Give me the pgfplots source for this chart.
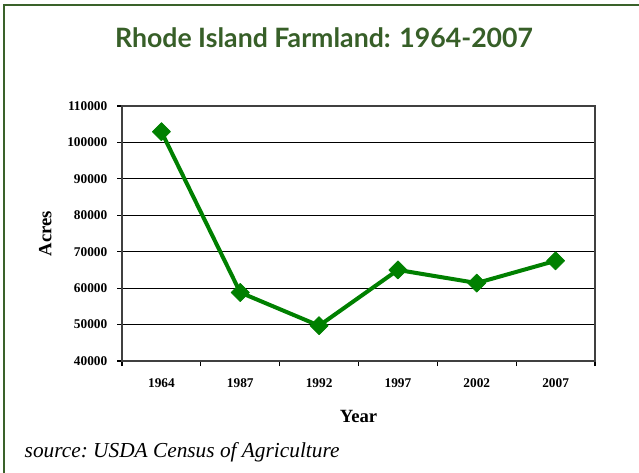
\documentclass[border=0pt]{standalone}
\usepackage{fontspec}
\setmainfont{Liberation Serif}
\newfontfamily\titlefont{Lato}
\usepackage{pgfplots}
\pgfplotsset{compat=1.18}
\definecolor{frame}{RGB}{58,98,42}
\definecolor{titlegreen}{RGB}{55,95,40}
\definecolor{linegreen}{RGB}{0,128,0}
\begin{document}
\begin{tikzpicture}[x=0.75pt,y=0.75pt]
\useasboundingbox (0,0) rectangle (639,472);
% frame (left and top edges only, picture is cropped)
\draw[frame, line width=1.9pt] (4,-2) -- (4,467) -- (645,467);
\node[titlegreen, font=\titlefont\bfseries\fontsize{20}{23}\selectfont] at (324,434) {Rhode Island Farmland: 1964-2007};
\begin{axis}[
    at={(91.5pt,83.25pt)}, anchor=south west,
    scale only axis,
    width=354.75pt, height=191.25pt,
    xmin=-0.5, xmax=5.5,
    ymin=40000, ymax=110000,
    xtick={0,...,5},
    xticklabels={1964,1987,1992,1997,2002,2007},
    minor xtick={-0.5,0.5,...,5.5},
    major x tick style={draw=none},
    ytick={40000,50000,...,110000},
    yticklabels={40000,50000,60000,70000,80000,90000,100000,110000},
    scaled y ticks=false,
    tick pos=left,
    tick align=outside,
    major tick length=3.5pt,
    minor tick length=3.8pt,
    every tick/.style={black, line width=0.9pt},
    ymajorgrids,
    grid style={black, line width=0.9pt},
    axis line style={black!75, line width=1.1pt},
    tick label style={font=\bfseries\fontsize{10}{12}\selectfont},
    yticklabel style={xshift=-4pt},
    xticklabel style={yshift=-6pt},
    xlabel={Year},
    ylabel={Acres},
    label style={font=\bfseries\fontsize{14}{16}\selectfont},
    xlabel style={yshift=-10pt},
    ylabel style={yshift=5pt},
    clip=false,
]
\addplot[linegreen, line width=3pt, line join=round,
    mark=square*, mark size=4.8pt,
    mark options={rotate=45, solid, fill=linegreen, draw=linegreen, line width=0.5pt}]
    coordinates {(0,102950) (1,58800) (2,49700) (3,65000) (4,61400) (5,67500)};
\end{axis}
\node[anchor=base west, font=\itshape\fontsize{16}{19}\selectfont] at (20,15) {source:\ USDA Census of Agriculture};
\end{tikzpicture}
\end{document}
